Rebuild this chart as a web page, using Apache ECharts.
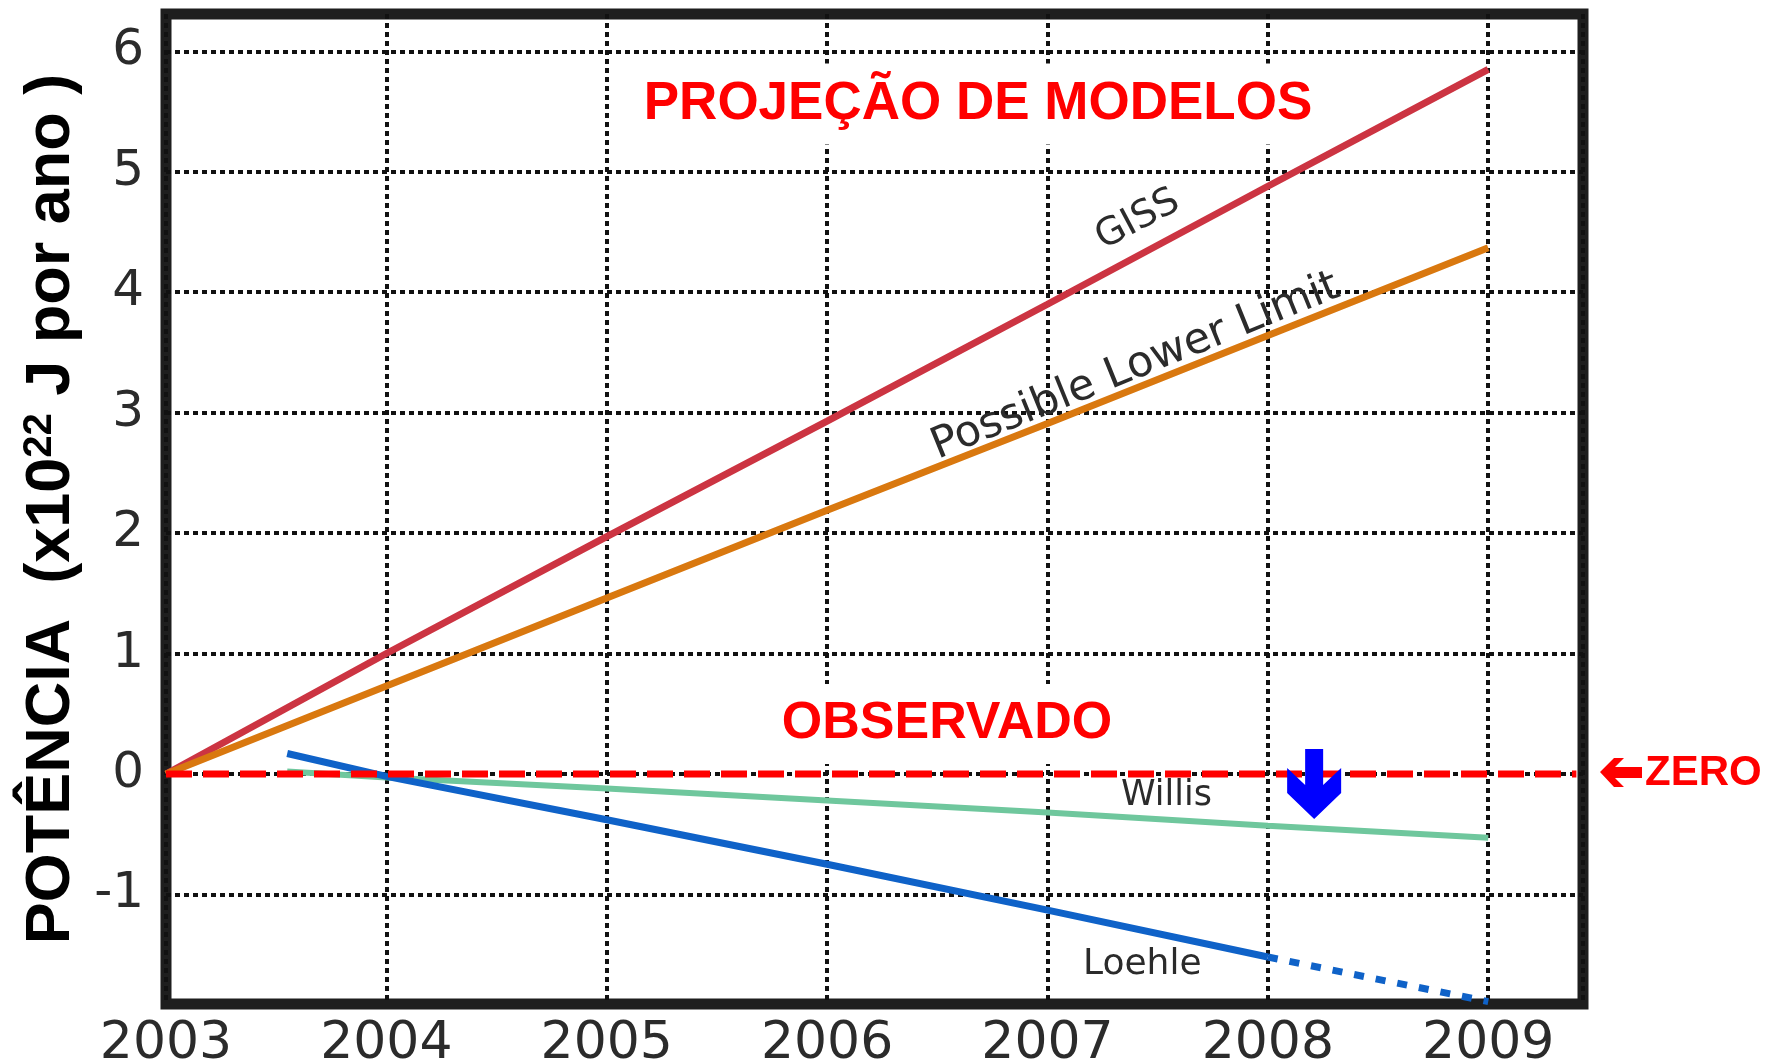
<!DOCTYPE html>
<html>
<head>
<meta charset="utf-8">
<script src="https://cdn.jsdelivr.net/npm/echarts@6/dist/echarts.min.js"></script>
<style>
  html, body { margin: 0; padding: 0; background: #fff; }
  #chart { width: 1780px; height: 1064px; }
</style>
</head>
<body>
<div id="chart"></div>
<script>
// anos e valores
const years = [2003, 2004, 2005, 2006, 2007, 2008, 2009];
const yTicks = [-1, 0, 1, 2, 3, 4, 5, 6];
const gissValues = [0, 1.0, 1.97, 2.93, 3.9, 4.88, 5.85];
const lowerLimitValues = [0, 0.73, 1.46, 2.19, 2.91, 3.64, 4.37];
const willisYears = [2003.55, 2004, 2005, 2006, 2007, 2008, 2009];
const willisValues = [0.02, -0.03, -0.12, -0.22, -0.32, -0.43, -0.53];
const loehleYears = [2003.55, 2004, 2005, 2006, 2007, 2008];
const loehleValues = [0.17, -0.02, -0.38, -0.75, -1.13, -1.52];
const loehleProjYears = [2008, 2009];
const loehleProjValues = [-1.52, -1.89];
const zeroYears = [2003, 2009.4];
const zeroValues = [0, 0];

const xMin = 2003, xMax = 2009.43;
const yMin = -1.91, yMax = 6.31;

function pairs(xs, ys) {
  return xs.map((x, i) => [x, ys[i]]);
}

const chart = echarts.init(document.getElementById('chart'), null, { renderer: 'canvas' });

const gridLine = { color: '#111', width: 4, type: [5, 4] };
const smallLabel = { show: true, fontFamily: 'DejaVu Sans', color: '#2b2b2b', position: 'inside' };

const option = {
  backgroundColor: '#fff',
  animation: false,
  grid: {
    left: 166, right: 197, top: 14, bottom: 60,
    outerBoundsMode: 'none',
    containLabel: false,
    show: true, backgroundColor: '#fff',
    borderColor: '#1e1e1e', borderWidth: 11
  },
  xAxis: {
    type: 'value',
    min: xMin, max: xMax, interval: 1,
    axisLine: { show: false },
    axisTick: { show: false },
    axisLabel: {
      formatter: v => (years.indexOf(v) >= 0 ? String(v) : ''),
      fontFamily: 'DejaVu Sans', fontSize: 52, color: '#2b2b2b', margin: 14
    },
    splitLine: { show: true, lineStyle: gridLine }
  },
  yAxis: {
    type: 'value',
    min: yMin, max: yMax,
    axisLine: { show: false },
    axisTick: { show: false, customValues: yTicks },
    axisLabel: {
      customValues: yTicks,
      fontFamily: 'DejaVu Sans', fontSize: 50, color: '#2b2b2b', margin: 22
    },
    splitLine: { show: true, lineStyle: gridLine },
    name: 'POTÊNCIA  (x10{sup|22} J por ano )',
    nameLocation: 'middle',
    nameRotate: 90,
    nameGap: 80,
    nameTextStyle: {
      fontFamily: 'Liberation Sans', fontWeight: 'bold', fontSize: 63, color: '#000',
      rich: {
        sup: { fontFamily: 'Liberation Sans', fontWeight: 'bold', fontSize: 40, color: '#000', verticalAlign: 'top', padding: [0, 0, 22, 0] }
      }
    }
  },
  graphic: [
    {
      type: 'text', x: 978, y: 104, z: 50,
      style: {
        text: 'PROJEÇÃO DE MODELOS', fill: '#ff0000',
        font: 'bold 53px "Liberation Sans", Arial, sans-serif',
        align: 'center', verticalAlign: 'middle',
        backgroundColor: '#fff', padding: [14, 10, 14, 10]
      }
    },
    {
      type: 'text', x: 947, y: 724, z: 50,
      style: {
        text: 'OBSERVADO', fill: '#ff0000',
        font: 'bold 52px "Liberation Sans", Arial, sans-serif',
        align: 'center', verticalAlign: 'middle',
        backgroundColor: '#fff', padding: [14, 10, 14, 10]
      }
    },
    {
      type: 'polygon', z: 50,
      shape: { points: [[1600, 772], [1614, 758], [1624, 758], [1615, 767], [1642, 767], [1642, 778], [1615, 778], [1624, 787], [1614, 787]] },
      style: { fill: '#ff0000' }
    },
    {
      type: 'text', x: 1645, y: 773, z: 50,
      style: {
        text: 'ZERO', fill: '#ff0000',
        font: 'bold 42px "Liberation Sans", Arial, sans-serif',
        align: 'left', verticalAlign: 'middle'
      }
    }
  ],
  series: [
    {
      name: 'GISS', type: 'line', data: pairs(years, gissValues),
      symbol: 'none', lineStyle: { color: '#cc3442', width: 7 },
      markPoint: {
        symbolSize: 0, silent: true,
        data: [{ coord: [2007.41, 4.6], label: Object.assign({}, smallLabel, { formatter: 'GISS', fontSize: 38, rotate: 28 }) }]
      }
    },
    {
      name: 'Possible Lower Limit', type: 'line', data: pairs(years, lowerLimitValues),
      symbol: 'none', lineStyle: { color: '#d9780f', width: 7 },
      markPoint: {
        symbolSize: 0, silent: true,
        data: [{ coord: [2007.4, 3.38], label: Object.assign({}, smallLabel, { formatter: 'Possible Lower Limit', fontSize: 43, rotate: 22 }) }]
      }
    },
    {
      name: 'Willis', type: 'line', data: pairs(willisYears, willisValues),
      symbol: 'none', lineStyle: { color: '#6fc79d', width: 6 },
      markPoint: {
        symbolSize: 0, silent: true,
        data: [{ coord: [2007.54, -0.18], label: Object.assign({}, smallLabel, { formatter: 'Willis', fontSize: 35 }) }]
      }
    },
    {
      name: 'Loehle', type: 'line', data: pairs(loehleYears, loehleValues),
      symbol: 'none', lineStyle: { color: '#0f62c8', width: 7 },
      markPoint: {
        symbolSize: 0, silent: true,
        data: [{ coord: [2007.43, -1.58], label: Object.assign({}, smallLabel, { formatter: 'Loehle', fontSize: 36 }) }]
      }
    },
    {
      name: 'Loehle projeção', type: 'line', data: pairs(loehleProjYears, loehleProjValues),
      symbol: 'none', lineStyle: { color: '#0f62c8', width: 7, type: [10, 12] }
    },
    {
      name: 'zero', type: 'line', data: pairs(zeroYears, zeroValues),
      symbol: 'none', lineStyle: { color: '#ff0000', width: 7, type: [26, 11] },
      markPoint: {
        silent: true,
        symbol: 'path://M18 0L36 0L36 36L54 19L54 44L27 70L0 44L0 19L18 36Z',
        symbolSize: [54, 70],
        itemStyle: { color: '#0000ff' },
        label: { show: false },
        data: [{ coord: [2008.21, -0.083] }]
      }
    }
  ]
};

chart.setOption(option);
</script>
</body>
</html>
